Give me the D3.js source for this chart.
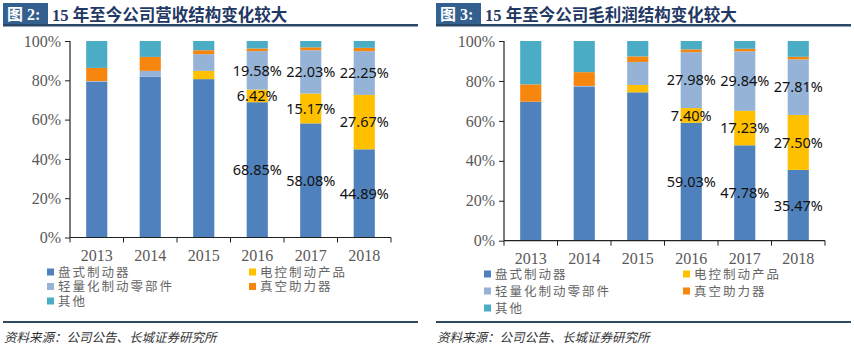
<!DOCTYPE html>
<html>
<head>
<meta charset="utf-8">
<script src="https://cdn.jsdelivr.net/npm/d3@7"></script>
<style>
  html, body { margin: 0; padding: 0; background: #fff; }
  svg { display: block; }
</style>
</head>
<body>
<svg id="chart" width="854" height="346"></svg>
<script>
// Years on the category axis
const years = ["2013", "2014", "2015", "2016", "2017", "2018"];

// Product lines (stack order, bottom to top)
const seriesNames = ["盘式制动器", "电控制动产品", "轻量化制动零部件", "真空助力器", "其他"];
const seriesColors = ["#4F81BD", "#FFC000", "#95B3D7", "#F7860F", "#4BACC6"];

// Revenue share (%) by product line
const revDisc     = [79.3, 81.9, 80.6, 68.85, 58.08, 44.89];
const revElectric = [0, 0, 4.2, 6.42, 15.17, 27.67];
const revLight    = [0.3, 2.9, 8.5, 19.58, 22.03, 22.25];
const revVacuum   = [6.7, 7.1, 2.0, 1.35, 1.5, 1.7];
const revOther    = [13.7, 8.1, 4.7, 3.8, 3.22, 3.49];

// Gross-profit share (%) by product line
const gpDisc     = [69.6, 77.0, 74.3, 59.03, 47.78, 35.47];
const gpElectric = [0, 0, 3.7, 7.40, 17.23, 27.50];
const gpLight    = [0, 0.5, 11.5, 27.98, 29.84, 27.81];
const gpVacuum   = [8.7, 6.9, 2.8, 1.4, 1.25, 1.3];
const gpOther    = [21.7, 15.6, 7.7, 4.19, 3.9, 7.92];

// Value labels are shown for these years and these series
const labelYears = ["2016", "2017", "2018"];
const labelSeries = ["盘式制动器", "电控制动产品", "轻量化制动零部件"];

const yTicks = [0, 20, 40, 60, 80, 100];
const source = "资料来源：公司公告、长城证券研究所";

const svg = d3.select("#chart");

function buildRows(cols) {
  return years.map((yr, i) => {
    const row = { year: yr };
    seriesNames.forEach((s, k) => { row[s] = cols[k][i]; });
    return row;
  });
}

function drawPanel(cfg) {
  const g = svg.append("g");
  const L = cfg.left;

  // Title strip
  g.append("rect").attr("x", L).attr("y", 3).attr("width", 45).attr("height", 22)
    .attr("fill", "#33608F");
  g.append("text").attr("x", L + 4).attr("y", 20)
    .attr("font-family", "'Liberation Serif', 'Noto Sans CJK SC'")
    .attr("font-weight", 700).attr("font-size", 16).attr("fill", "#fff")
    .text(cfg.fig);
  g.append("text").attr("x", L + 49).attr("y", 20.5)
    .attr("font-family", "'Liberation Serif', 'Noto Sans CJK SC'")
    .attr("font-weight", 700).attr("font-size", 16.5).attr("fill", "#1F3864")
    .text(cfg.title);
  g.append("rect").attr("x", L).attr("y", 24).attr("width", cfg.width).attr("height", 2.5)
    .attr("fill", "#2A4766");

  // Scales
  const x = d3.scaleBand().domain(years).range([cfg.x0, cfg.x1])
    .paddingInner(0.605).paddingOuter(0.3025);
  const y = d3.scaleLinear().domain([0, 100]).range([cfg.y0, cfg.y100]);

  const rows = buildRows(cfg.cols);
  const stacked = d3.stack().keys(seriesNames)(rows);
  const color = d3.scaleOrdinal().domain(seriesNames).range(seriesColors);

  // Bars
  g.append("g").selectAll("g").data(stacked).join("g")
    .attr("fill", d => color(d.key))
    .selectAll("rect").data(d => d).join("rect")
    .attr("x", d => x(d.data.year))
    .attr("width", x.bandwidth())
    .attr("y", d => y(d[1]))
    .attr("height", d => Math.max(0, y(d[0]) - y(d[1])));

  // Value labels
  const fmt = d3.format(".2f");
  const labels = [];
  stacked.forEach(layer => {
    if (!labelSeries.includes(layer.key)) return;
    layer.forEach(d => {
      if (labelYears.includes(d.data.year)) labels.push({ d, key: layer.key });
    });
  });
  g.append("g").selectAll("text").data(labels).join("text")
    .attr("x", o => x(o.d.data.year) + x.bandwidth() / 2)
    .attr("y", o => y((o.d[0] + o.d[1]) / 2))
    .attr("dy", "0.36em")
    .attr("text-anchor", "middle")
    .attr("font-family", "'Noto Sans', sans-serif")
    .attr("font-size", 14.5).attr("fill", "#111")
    .text(o => fmt(o.d.data[o.key]) + "%");

  // Y axis
  const yAxis = g.append("g").attr("transform", `translate(${cfg.x0},0)`)
    .call(d3.axisLeft(y).tickValues(yTicks).tickFormat(v => v + "%").tickSize(5).tickPadding(4));
  yAxis.select(".domain").attr("stroke", "#222").attr("stroke-width", 1.2)
    .attr("d", `M0,${cfg.y0}V${cfg.y100}`);
  yAxis.selectAll(".tick line").attr("stroke", "#222");
  yAxis.selectAll(".tick text").attr("font-family", "'Liberation Serif', serif")
    .attr("font-size", 16).attr("fill", "#595959");

  // X axis with ticks at category boundaries
  const step = x.step();
  const bounds = d3.range(years.length + 1).map(i => cfg.x0 + i * step);
  const xg = g.append("g");
  xg.append("line").attr("x1", cfg.x0).attr("x2", cfg.x1)
    .attr("y1", cfg.y0).attr("y2", cfg.y0).attr("stroke", "#222").attr("stroke-width", 1.2);
  xg.selectAll("line.tk").data(bounds).join("line").attr("class", "tk")
    .attr("x1", d => d).attr("x2", d => d)
    .attr("y1", cfg.y0).attr("y2", cfg.y0 + 5).attr("stroke", "#222");
  xg.selectAll("text").data(years).join("text")
    .attr("x", d => x(d) + x.bandwidth() / 2)
    .attr("y", cfg.yearY).attr("dy", "0.35em")
    .attr("text-anchor", "middle")
    .attr("font-family", "'Liberation Serif', serif")
    .attr("font-size", 16).attr("fill", "#595959")
    .text(d => d);

  // Legend
  const legPos = [
    [cfg.legX1, 0], [cfg.legX2, 0],
    [cfg.legX1, 1], [cfg.legX2, 1],
    [cfg.legX1, 2]
  ];
  const leg = g.append("g").selectAll("g").data(seriesNames).join("g")
    .attr("transform", (d, i) => `translate(${legPos[i][0]},${cfg.legY + legPos[i][1] * cfg.legGap})`);
  leg.append("rect").attr("x", 0).attr("y", -3.5).attr("width", 7).attr("height", 7)
    .attr("fill", d => color(d));
  leg.append("text").attr("x", 11).attr("y", 0).attr("dy", "0.36em")
    .attr("font-family", "'Noto Sans CJK SC', sans-serif")
    .attr("font-size", 12.5).attr("letter-spacing", 2).attr("fill", "#666")
    .text(d => d);

  // Source line
  g.append("rect").attr("x", L).attr("y", 321).attr("width", cfg.width).attr("height", 2)
    .attr("fill", "#2E4A60");
  g.append("text").attr("x", L + 1).attr("y", 342)
    .attr("font-family", "'Noto Sans CJK SC', sans-serif")
    .attr("font-size", 12.5).attr("font-style", "italic").attr("fill", "#333")
    .text(source);
}

drawPanel({
  left: 3, width: 415,
  fig: "图 2:", title: "15 年至今公司营收结构变化较大",
  x0: 70, x1: 391, y0: 237.5, y100: 41, yearY: 255,
  legX1: 47, legX2: 249, legY: 272, legGap: 14.5,
  cols: [revDisc, revElectric, revLight, revVacuum, revOther]
});

drawPanel({
  left: 436, width: 415,
  fig: "图 3:", title: "15 年至今公司毛利润结构变化较大",
  x0: 504, x1: 825, y0: 240.7, y100: 41, yearY: 258,
  legX1: 484, legX2: 683, legY: 274, legGap: 17,
  cols: [gpDisc, gpElectric, gpLight, gpVacuum, gpOther]
});
</script>
</body>
</html>
